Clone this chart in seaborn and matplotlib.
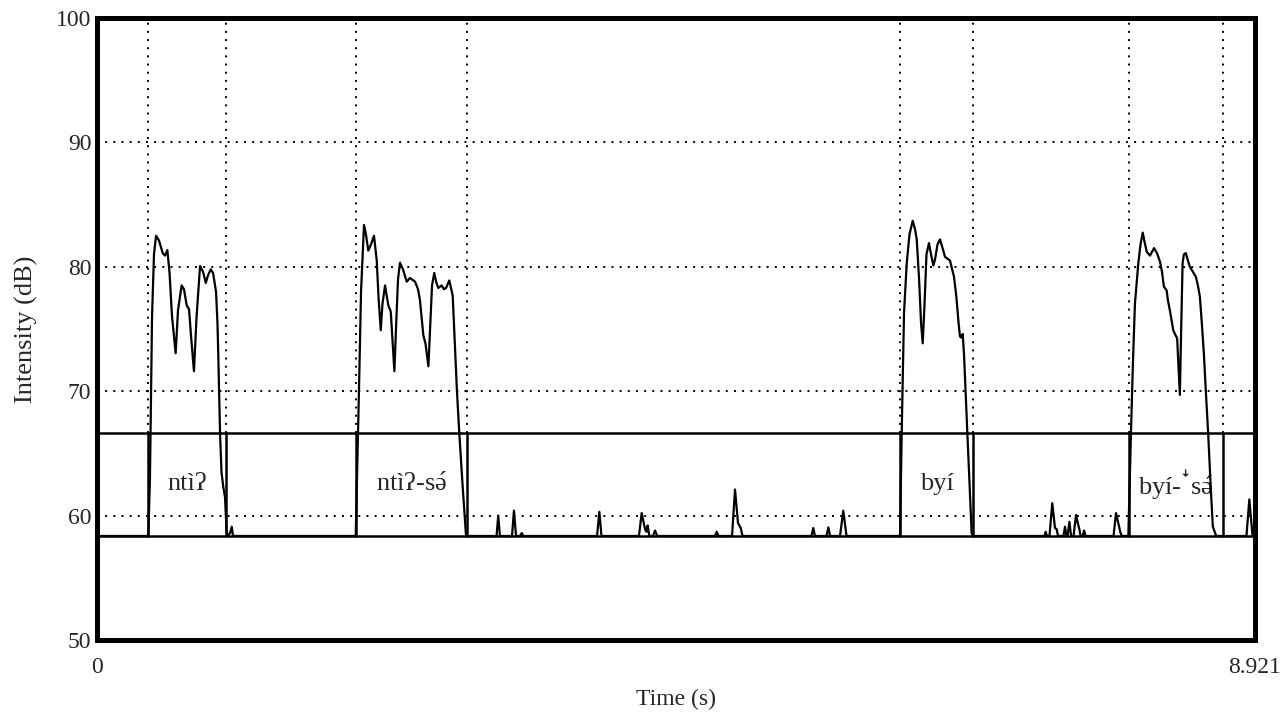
import matplotlib
matplotlib.use("Agg")
import matplotlib.pyplot as plt
import seaborn as sns
import pandas as pd

# intensity contour (s, dB); silence is clipped at the floor value
floor_db = 58.36
t_end = 8.921

time_s = [
    0.0, 0.395, 0.408, 0.424, 0.439, 0.455, 0.478, 0.506, 0.524, 0.542, 0.559, 0.578,
    0.606, 0.624, 0.652, 0.670, 0.691, 0.709, 0.724, 0.747, 0.767, 0.794, 0.817,
    0.838, 0.855, 0.876, 0.894, 0.917, 0.928, 0.934, 0.948, 0.959, 0.973, 0.986,
    0.999, 1.009, 1.025, 1.038, 1.048,
    1.993, 2.005, 2.018, 2.034, 2.057, 2.072, 2.090, 2.111, 2.134, 2.155, 2.169,
    2.186, 2.199, 2.219, 2.244, 2.263, 2.277, 2.291, 2.307, 2.319, 2.334, 2.357,
    2.386, 2.411, 2.450, 2.473, 2.488, 2.514, 2.531, 2.553, 2.570, 2.581, 2.598,
    2.615, 2.629, 2.655, 2.673, 2.689, 2.714, 2.740, 2.758, 2.773, 2.791, 2.816,
    2.843,
    3.078, 3.091, 3.104, 3.197, 3.212, 3.228, 3.259, 3.272, 3.285,
    3.852, 3.870, 3.886, 4.175, 4.196, 4.222, 4.233, 4.242, 4.255, 4.283, 4.299,
    4.316, 4.761, 4.774, 4.788, 4.892, 4.915, 4.938, 4.959, 4.973,
    5.504, 5.518, 5.531, 5.620, 5.634, 5.647, 5.724, 5.749, 5.774,
    6.186, 6.199, 6.217, 6.238, 6.259, 6.284, 6.302, 6.315, 6.333, 6.348, 6.361,
    6.375, 6.390, 6.409, 6.425, 6.443, 6.456, 6.475, 6.494, 6.514, 6.533, 6.571,
    6.602, 6.621, 6.637, 6.648, 6.660, 6.669, 6.679, 6.691, 6.705, 6.722, 6.738,
    6.748,
    7.299, 7.308, 7.318, 7.338, 7.359, 7.380, 7.393, 7.403, 7.445, 7.457, 7.469,
    7.477, 7.491, 7.504, 7.523, 7.542, 7.558, 7.568, 7.577, 7.593, 7.604, 7.616,
    7.831, 7.850, 7.865, 7.876, 7.885, 7.896,
    7.945, 7.965, 7.981, 7.996, 8.022, 8.039, 8.056, 8.070, 8.087, 8.112, 8.143,
    8.166, 8.189, 8.204, 8.219, 8.240, 8.250, 8.265, 8.291, 8.304, 8.321, 8.342,
    8.350, 8.363, 8.373, 8.388, 8.404, 8.419, 8.442, 8.465, 8.481, 8.496, 8.511,
    8.527, 8.542, 8.560, 8.581, 8.596, 8.622,
    8.855, 8.877, 8.902, 8.921,
]
intensity_db = [
    58.36, 58.36, 63.0, 76.0, 81.0, 82.5, 82.1, 81.1, 80.9, 81.35, 79.5, 76.0,
    73.05, 76.5, 78.5, 78.2, 76.9, 76.6, 74.5, 71.6, 76.0, 80.06, 79.6,
    78.7, 79.3, 79.8, 79.5, 78.0, 75.5, 73.07, 66.6, 63.5, 62.3, 61.5,
    58.6, 58.4, 58.6, 59.1, 58.36,
    58.36, 63.9, 70.0, 78.0, 83.36, 82.6, 81.3, 81.8, 82.5, 80.5, 77.5,
    74.9, 77.0, 78.5, 76.9, 76.4, 74.0, 71.6, 76.0, 79.0, 80.33, 79.8,
    78.8, 79.1, 78.8, 78.2, 77.3, 74.5, 73.8, 72.0, 76.0, 78.5, 79.5,
    78.7, 78.3, 78.5, 78.2, 78.3, 78.9, 77.7, 73.5, 70.0, 66.6, 62.5,
    58.36,
    58.36, 60.0, 58.36, 58.36, 60.4, 58.36, 58.36, 58.6, 58.36,
    58.36, 60.3, 58.36, 58.36, 60.2, 58.9, 58.7, 59.2, 58.36, 58.36, 58.8,
    58.36, 58.36, 58.7, 58.36, 58.36, 62.1, 59.4, 59.0, 58.36,
    58.36, 59.0, 58.36, 58.36, 59.05, 58.36, 58.36, 60.4, 58.36,
    58.36, 66.6, 76.3, 80.3, 82.6, 83.7, 83.0, 82.2, 79.0, 75.5, 73.85,
    77.0, 81.0, 81.9, 81.0, 80.1, 80.6, 81.8, 82.2, 81.5, 80.8, 80.5,
    79.2, 77.5, 75.5, 74.4, 74.3, 74.6, 73.0, 70.0, 66.6, 62.5, 58.6,
    58.36,
    58.36, 58.7, 58.36, 58.4, 61.0, 59.0, 58.9, 58.36, 58.36, 59.1, 58.36,
    58.36, 59.5, 58.36, 58.36, 60.05, 59.3, 58.9, 58.36, 58.36, 58.8, 58.36,
    58.36, 60.2, 59.5, 59.0, 58.6, 58.36,
    58.36, 66.6, 72.5, 77.06, 80.3, 81.8, 82.74, 82.0, 81.2, 80.9, 81.5,
    81.1, 80.4, 79.6, 78.4, 78.1, 77.3, 76.5, 74.9, 74.6, 74.25, 69.7,
    74.0, 80.3, 81.0, 81.1, 80.5, 80.0, 79.6, 79.2, 78.5, 77.6, 75.5,
    73.0, 70.0, 66.6, 62.0, 59.1, 58.36,
    58.36, 61.3, 58.36, 58.36,
]

# text tier (accent and downstep set through mathtext so they sit right)
word_starts = [0.395, 1.993, 6.187, 7.950]
word_ends = [0.991, 2.848, 6.751, 8.675]
word_labels = ["ntìʔ", r"ntìʔ-s$\acute{\mathrm{ə}}$", "byí",
               r"byí-$^{\mathrm{ꜜ}}$s$\acute{\mathrm{ə}}$"]
tier_top = 66.64
tier_bottom = 58.36

y_ticks = [50, 60, 70, 80, 90, 100]
y_grid = [60, 70, 80, 90]

sns.set_style("white")
plt.rcParams["font.family"] = ["Liberation Serif", "DejaVu Serif"]
plt.rcParams["mathtext.fontset"] = "custom"
plt.rcParams["mathtext.rm"] = "Liberation Serif"
plt.rcParams["mathtext.it"] = "Liberation Serif:italic"
plt.rcParams["mathtext.bf"] = "Liberation Serif:bold"

fig = plt.figure(figsize=(12.83, 7.22), dpi=100)
ax = fig.add_axes([0.0756, 0.1136, 0.9026, 0.8615])

df = pd.DataFrame({"time": time_s, "db": intensity_db})

dot = (0, (1, 3.2))
for g in y_grid:
    ax.axhline(g, color="black", lw=1.4, ls=dot, zorder=1)
for b in word_starts + word_ends:
    ax.plot([b, b], [tier_top, 100], color="black", lw=1.4, ls=dot, zorder=1)

# tier box and boundaries
ax.axhline(tier_top, color="black", lw=1.8, zorder=2)
ax.axhline(tier_bottom, color="black", lw=1.8, zorder=2)
for b in word_starts + word_ends:
    ax.plot([b, b], [tier_bottom, tier_top], color="black", lw=1.8, zorder=2)
for s, e, lab in zip(word_starts, word_ends, word_labels):
    ax.text((s + e) / 2, (tier_top + tier_bottom) / 2, lab, ha="center", va="center",
            fontsize=19, zorder=3)

sns.lineplot(data=df, x="time", y="db", sort=False, estimator=None,
             color="black", lw=1.6, ax=ax, zorder=4)

ax.set_xlim(0, t_end)
ax.set_ylim(50, 100)
ax.set_xticks([0, t_end])
ax.set_xticklabels(["0", "8.921"])
ax.set_yticks(y_ticks)
ax.tick_params(axis="both", direction="out", length=3, width=3.5, color="black",
               labelsize=17, pad=1)
ax.tick_params(axis="x", pad=9)
for sp in ax.spines.values():
    sp.set_linewidth(3.6)
    sp.set_color("black")

ax.set_xlabel("Time (s)", fontsize=17, labelpad=8)
ax.set_ylabel("Intensity (dB)", fontsize=19, labelpad=13)

fig.savefig("out.png", dpi=100)
